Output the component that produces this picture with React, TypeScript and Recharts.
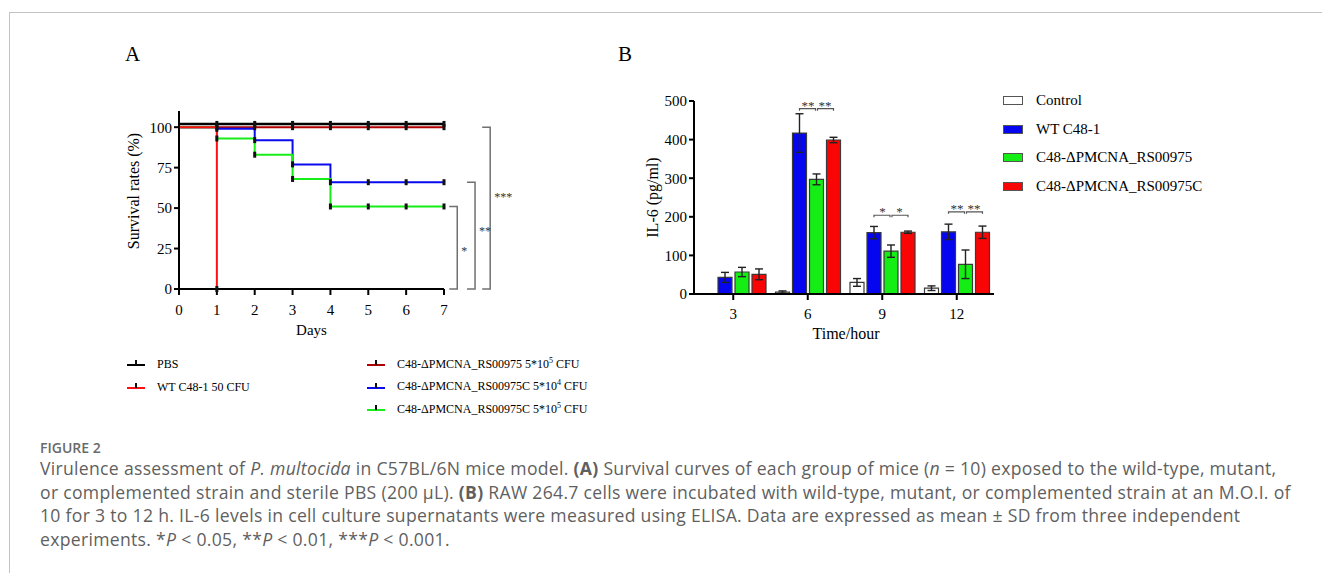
import React from 'react';
import {
  LineChart,
  Line,
  XAxis,
  YAxis,
  ReferenceLine,
  BarChart,
  Bar,
  ErrorBar,
  LabelList,
} from 'recharts';

const SERIF = '"Liberation Serif", "Times New Roman", serif';
const SANS = '"Open Sans", "Noto Sans", sans-serif';

// ---- panel A: survival (%) per day ----
const days = [0, 1, 2, 3, 4, 5, 6, 7];
const survPbs = [102, 102, 102, 102, 102, 102, 102, 102];
const survWt = [100, 0, null, null, null, null, null, null];
const survMut = [100, 100, 100, 100, 100, 100, 100, 100];
const survComp4 = [100, 99, 92, 77, 66, 66, 66, 66];
const survComp5 = [100, 93, 83, 68, 51, 51, 51, 51];
const survTicks = [0, 25, 50, 75, 100];

// brackets on the right of panel A: top value and stars
const sigATop = [51, 66, 100];
const sigALabel = ['*', '**', '***'];
const sigAX = [7.35, 7.82, 8.22]; // where the brackets sit, in days
const sigALabelShift = [3, -5, -11];

// ---- panel B: IL-6 (pg/ml) per hour ----
const hours = ['3', '6', '9', '12'];
const il6Control = [null, 5, 30, 15];
const il6ControlSd = [null, 3, 10, 6];
const il6Wt = [43, 417, 159, 161];
const il6WtSd = [13, 50, 16, 20];
const il6Mut = [57, 297, 111, 77];
const il6MutSd = [12, 14, 16, 37];
const il6Comp = [51, 399, 160, 160];
const il6CompSd = [14, 7, 3, 16];
const il6Ticks = [0, 100, 200, 300, 400, 500];
const sigBY = [null, 480, 204, 213];
const sigBWtMut = [null, '**', '*', '**'];
const sigBMutComp = [null, '**', '*', '**'];

const survivalSeries = [
  { key: 'mut', name: 'C48-ΔPMCNA_RS00975 5*10^5 CFU', color: '#b00000', values: survMut },
  { key: 'comp4', name: 'C48-ΔPMCNA_RS00975C 5*10^4 CFU', color: '#0a0aee', values: survComp4 },
  { key: 'comp5', name: 'C48-ΔPMCNA_RS00975C 5*10^5 CFU', color: '#17ee17', values: survComp5 },
  { key: 'pbs', name: 'PBS', color: '#000000', values: survPbs },
  { key: 'wt', name: 'WT C48-1 50 CFU', color: '#ff1010', values: survWt },
];
const legendASlots: Record<string, [number, number]> = {
  pbs: [127, 364],
  wt: [127, 387],
  mut: [367, 364],
  comp4: [367, 386.5],
  comp5: [367, 409],
};

const il6Series = [
  { key: 'control', sd: 'controlSd', name: 'Control', color: '#ffffff', values: il6Control, sds: il6ControlSd },
  { key: 'wt', sd: 'wtSd', name: 'WT C48-1', color: '#0505f0', values: il6Wt, sds: il6WtSd },
  { key: 'mut', sd: 'mutSd', name: 'C48-ΔPMCNA_RS00975', color: '#14ee14', values: il6Mut, sds: il6MutSd },
  { key: 'comp', sd: 'compSd', name: 'C48-ΔPMCNA_RS00975C', color: '#fa0505', values: il6Comp, sds: il6CompSd },
];

const survivalData = days.map((d, i) => {
  const row: Record<string, number | null> = { day: d };
  survivalSeries.forEach((s) => {
    row[s.key] = s.values[i];
  });
  return row;
});

const il6Data = hours.map((h, i) => {
  const row: Record<string, string | number | null> = { hour: h };
  il6Series.forEach((s) => {
    row[s.key] = s.values[i];
    row[s.sd] = s.sds[i];
  });
  return row;
});

const BAR_GAP = 3;

const withSup = (name: string) => {
  const m = name.match(/^(.*)\^(\d+)(.*)$/);
  if (!m) return name;
  return (
    <>
      {m[1]}
      <span style={{ fontSize: 8, position: 'relative', top: -5 }}>{m[2]}</span>
      {m[3]}
    </>
  );
};

const CensorMark = (props: any) => {
  const { cx, cy, index, payload, dataKey } = props;
  if (index === 0 || cx == null || cy == null || payload?.[dataKey] == null) {
    return <g key={`m-${dataKey}-${index}`} />;
  }
  return (
    <rect key={`m-${dataKey}-${index}`} x={cx - 1.5} y={cy - 3} width={3} height={6} fill="#111" />
  );
};

const BracketShape = (p: any) => (
  <path
    d={`M${p.x1 - 8},${p.y1}H${p.x1}V${p.y2}H${p.x2 - 8}`}
    fill="none"
    stroke="#707070"
    strokeWidth={1.5}
  />
);

const SigBracketB = (props: any) => {
  const vb = props.viewBox || props;
  const index = props.index;
  const top = sigBY[index];
  const value = il6Mut[index];
  if (top == null || !value) return null;
  const { x, y, width, height } = vb;
  const perUnit = height / value;
  const by = y + height - top * perUnit;
  const step = width + BAR_GAP;
  const mutC = x + width / 2;
  const wtC = mutC - step;
  const compC = mutC + step;
  return (
    <g>
      <path
        d={`M${wtC},${by + 2}V${by}H${mutC - 1}V${by + 2}M${mutC + 1},${by + 2}V${by}H${compC}V${by + 2}`}
        fill="none"
        stroke="#555"
        strokeWidth={1.2}
      />
      <text x={(wtC + mutC) / 2} y={by + 1} textAnchor="middle" fontSize={13} fill="#333" fontFamily={SERIF}>
        {sigBWtMut[index]}
      </text>
      <text x={(mutC + compC) / 2} y={by + 1} textAnchor="middle" fontSize={13} fill="#333" fontFamily={SERIF}>
        {sigBMutComp[index]}
      </text>
    </g>
  );
};

const axisTick = { fill: '#000', fontSize: 15, fontFamily: SERIF };
const axisLine = { stroke: '#000', strokeWidth: 2 };

function SurvivalPanel() {
  return (
    <LineChart
      width={420}
      height={255}
      data={survivalData}
      margin={{ top: 21, right: 76, bottom: 26, left: 29 }}
    >
      <XAxis
        dataKey="day"
        type="number"
        domain={[0, 7]}
        ticks={days}
        height={30}
        axisLine={axisLine}
        tickLine={axisLine}
        tickSize={6}
        tickMargin={9}
        tick={axisTick}
        label={{
          content: ({ viewBox }: any) => (
            <text
              x={viewBox.x + viewBox.width / 2}
              y={viewBox.y + 41}
              textAnchor="middle"
              dominantBaseline="central"
              fontSize={15}
              fontFamily={SERIF}
              fill="#000"
            >
              Days
            </text>
          ),
        }}
      />
      <YAxis
        type="number"
        domain={[0, 110]}
        ticks={survTicks}
        width={50}
        axisLine={axisLine}
        tickLine={axisLine}
        tickSize={5}
        tickMargin={2}
        tick={axisTick}
        label={{
          content: ({ viewBox }: any) => {
            const cx = viewBox.x + 4;
            const cy = viewBox.y + viewBox.height / 2 - 9;
            return (
              <text
                x={cx}
                y={cy}
                transform={`rotate(-90, ${cx}, ${cy})`}
                textAnchor="middle"
                dominantBaseline="central"
                fontSize={16}
                fontFamily={SERIF}
                fill="#000"
              >
                Survival rates (%)
              </text>
            );
          },
        }}
      />
      {sigATop.map((top, i) => (
        <ReferenceLine
          key={`sig-${i}`}
          segment={[
            { x: sigAX[i], y: top },
            { x: sigAX[i], y: 0 },
          ]}
          ifOverflow="visible"
          shape={BracketShape}
          label={{
            value: sigALabel[i],
            position: 'right',
            offset: 4,
            dy: sigALabelShift[i],
            fill: '#333',
            stroke: 'none',
            fontSize: 12,
            fontFamily: SERIF,
          }}
        />
      ))}
      {survivalSeries.map((s) => (
        <Line
          key={s.key}
          type="stepAfter"
          dataKey={s.key}
          stroke={s.color}
          strokeWidth={s.key === 'pbs' ? 2.5 : 2}
          dot={CensorMark}
          activeDot={false}
          connectNulls={false}
          isAnimationActive={false}
        />
      ))}
    </LineChart>
  );
}

function Il6Panel() {
  return (
    <BarChart
      width={440}
      height={300}
      data={il6Data}
      margin={{ top: 41, right: 26, bottom: 36, left: 64 }}
      barCategoryGap={5}
      barGap={BAR_GAP}
    >
      <XAxis
        dataKey="hour"
        height={30}
        padding={{ left: 2, right: 0 }}
        axisLine={axisLine}
        tickLine={axisLine}
        tickSize={6}
        tickMargin={8}
        tick={axisTick}
        label={{
          content: ({ viewBox }: any) => (
            <text
              x={viewBox.x + viewBox.width / 2 + 2}
              y={viewBox.y + 39}
              textAnchor="middle"
              dominantBaseline="central"
              fontSize={16}
              fontFamily={SERIF}
              fill="#000"
            >
              Time/hour
            </text>
          ),
        }}
      />
      <YAxis
        type="number"
        domain={[0, 500]}
        ticks={il6Ticks}
        width={50}
        axisLine={axisLine}
        tickLine={axisLine}
        tickSize={5}
        tickMargin={2}
        tick={axisTick}
        label={{
          content: ({ viewBox }: any) => {
            const cx = viewBox.x + 8;
            const cy = viewBox.y + viewBox.height / 2;
            return (
              <text
                x={cx}
                y={cy}
                transform={`rotate(-90, ${cx}, ${cy})`}
                textAnchor="middle"
                dominantBaseline="central"
                fontSize={16}
                fontFamily={SERIF}
                fill="#000"
              >
                IL-6 (pg/ml)
              </text>
            );
          },
        }}
      />
      {il6Series.map((s) => (
        <Bar
          key={s.key}
          dataKey={s.key}
          fill={s.color}
          stroke="#3a3a3a"
          strokeWidth={1.2}
          isAnimationActive={false}
        >
          <ErrorBar dataKey={s.sd} width={4} strokeWidth={1.4} stroke="#222" direction="y" />
          {s.key === 'mut' && <LabelList content={SigBracketB} />}
        </Bar>
      ))}
    </BarChart>
  );
}

const captionLines = [
  <>
    Virulence assessment of <i>P. multocida</i> in C57BL/6N mice model. <b>(A)</b> Survival curves of each group of mice (<i>n</i> = 10) exposed to the wild-type, mutant,
  </>,
  <>
    or complemented strain and sterile PBS (200 µL). <b>(B)</b> RAW 264.7 cells were incubated with wild-type, mutant, or complemented strain at an M.O.I. of
  </>,
  <>10 for 3 to 12 h. IL-6 levels in cell culture supernatants were measured using ELISA. Data are expressed as mean ± SD from three independent</>,
  <>
    experiments. *<i>P</i> &lt; 0.05, **<i>P</i> &lt; 0.01, ***<i>P</i> &lt; 0.001.
  </>,
];

export default function App() {
  return (
    <div
      style={{
        position: 'absolute',
        left: 0,
        top: 0,
        width: 1322,
        height: 573,
        background: '#fff',
        overflow: 'hidden',
        fontFamily: SERIF,
        color: '#000',
      }}
    >
      <div style={{ position: 'absolute', left: 9, top: 12, right: 0, borderTop: '1.5px solid #c2c2c2' }} />
      <div style={{ position: 'absolute', left: 9, top: 12, bottom: 0, borderLeft: '1.5px solid #c2c2c2' }} />

      <div style={{ position: 'absolute', left: 125, top: 44, fontSize: 21, lineHeight: 1 }}>A</div>
      <div style={{ position: 'absolute', left: 618, top: 44, fontSize: 21, lineHeight: 1 }}>B</div>

      <div style={{ position: 'absolute', left: 100, top: 90 }}>
        <SurvivalPanel />
      </div>

      {survivalSeries.map((s) => {
        const [lx, ly] = legendASlots[s.key];
        return (
          <div
            key={s.key}
            style={{
              position: 'absolute',
              left: lx,
              top: ly - 9,
              height: 18,
              display: 'flex',
              alignItems: 'center',
              whiteSpace: 'nowrap',
              fontSize: 12,
            }}
          >
            <svg width={18} height={10} style={{ marginRight: 12 }}>
              <rect x={0} y={5} width={18} height={2} fill={s.color} />
              <rect x={8} y={1} width={2} height={5} fill="#111" />
            </svg>
            <span>{withSup(s.name)}</span>
          </div>
        );
      })}

      <div style={{ position: 'absolute', left: 580, top: 60 }}>
        <Il6Panel />
      </div>

      {il6Series.map((s, i) => (
        <div
          key={s.key}
          style={{
            position: 'absolute',
            left: 1003,
            top: 100.5 + i * 28.5 - 10,
            height: 20,
            display: 'flex',
            alignItems: 'center',
            whiteSpace: 'nowrap',
            fontSize: 15,
          }}
        >
          <div
            style={{
              width: 18,
              height: 7,
              background: s.color,
              border: '1px solid #555',
              marginRight: 13,
            }}
          />
          <span>{s.name}</span>
        </div>
      ))}

      <div
        style={{
          position: 'absolute',
          left: 40,
          top: 438,
          fontFamily: SANS,
          fontWeight: 600,
          fontSize: 14,
          lineHeight: '20px',
          color: '#6a6a6a',
        }}
      >
        FIGURE 2
      </div>
      <div
        style={{
          position: 'absolute',
          left: 40,
          top: 457,
          fontFamily: SANS,
          fontSize: 17.6,
          letterSpacing: 0.3,
          lineHeight: '23.6px',
          color: '#5f5f5f',
          whiteSpace: 'nowrap',
        }}
      >
        {captionLines.map((l, i) => (
          <div key={i}>{l}</div>
        ))}
      </div>
    </div>
  );
}
